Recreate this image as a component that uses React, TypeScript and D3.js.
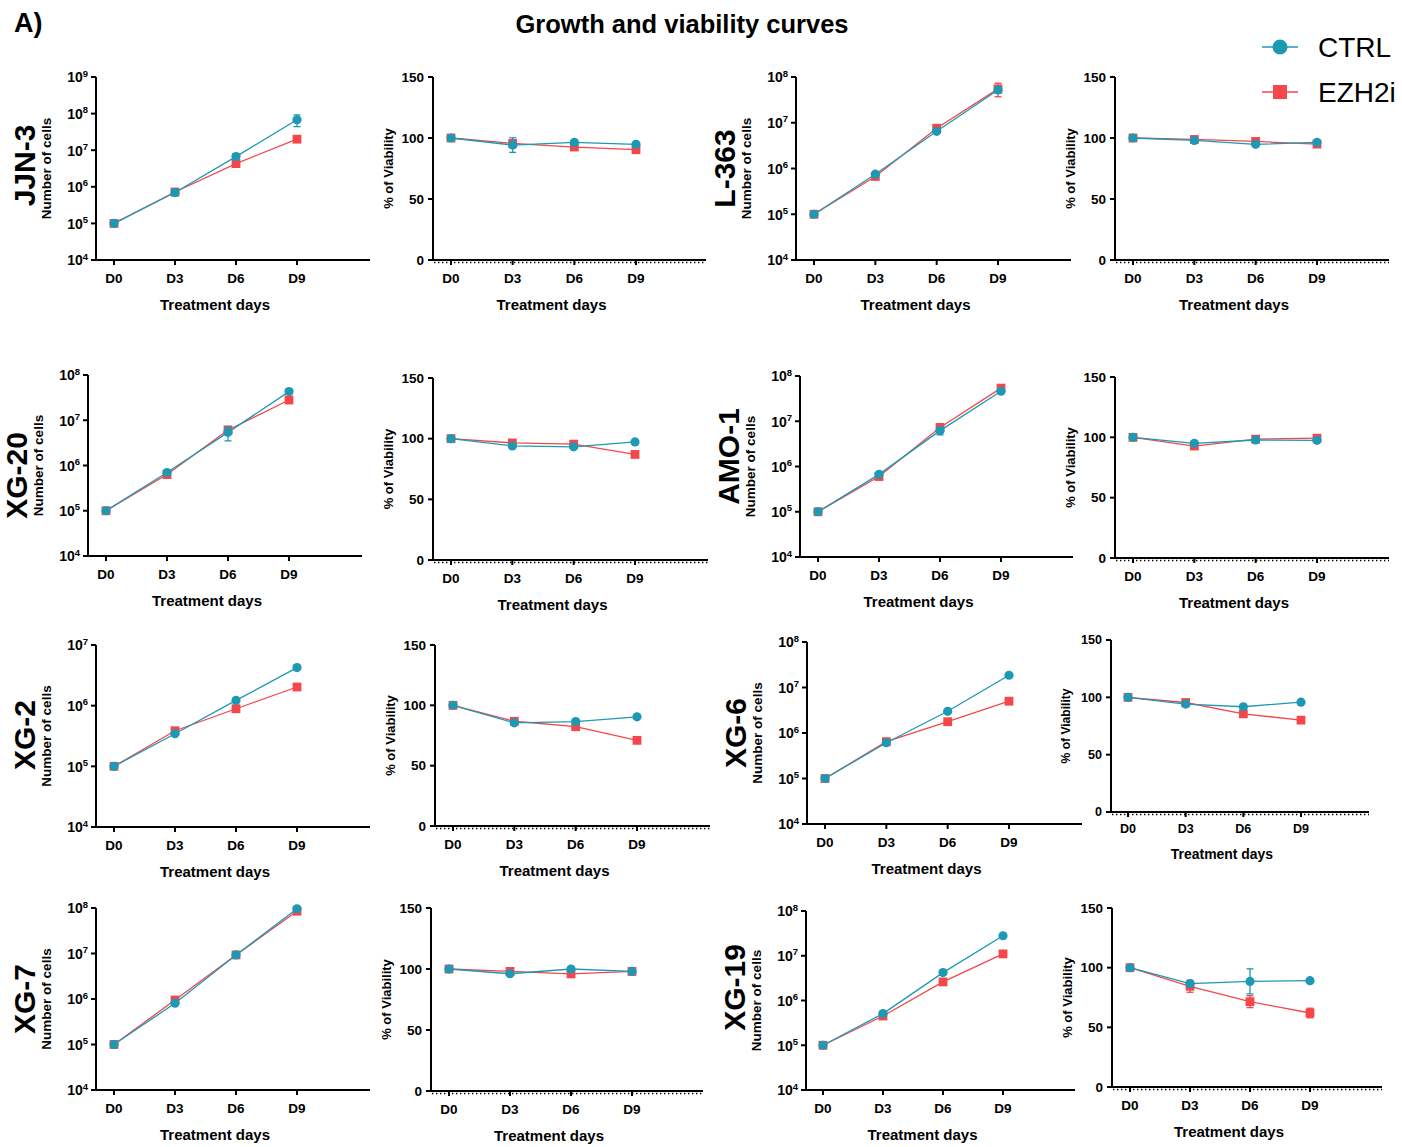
import React from "react";
import * as d3 from "d3";

// ---------------- DATA ----------------
const days = [0, 3, 6, 9];
const dayLabels = ["D0", "D3", "D6", "D9"];
const cellLines = ["JJN-3", "L-363", "XG-20", "AMO-1", "XG-2", "XG-6", "XG-7", "XG-19"];
const seriesNames = ["CTRL", "EZH2i"];
const growthMaxExp = [9, 8, 8, 8, 7, 8, 8, 8];
const growthMinExp = 4;
const viabTicks = [0, 50, 100, 150];

const growthCtrl = [
  [1e5, 7.0e5, 6.7e6, 6.8e7],
  [1e5, 7.5e5, 6.5e6, 5.2e7],
  [1e5, 7.0e5, 5.4e6, 4.3e7],
  [1e5, 6.7e5, 6.2e6, 4.6e7],
  [1e5, 3.45e5, 1.22e6, 4.24e6],
  [1e5, 6.1e5, 3.0e6, 1.86e7],
  [1e5, 8.1e5, 9.3e6, 9.6e7],
  [1e5, 5.1e5, 4.2e6, 2.8e7],
];
const growthCtrlSd = [
  [0, 1.3e5, 1.2e6, 2.4e7],
  [0, 5e4, 5e5, 8e6],
  [0, 5e4, 1.9e6, 5e6],
  [0, 5e4, 1.2e6, 3e6],
  [0, 2e4, 8e4, 2e5],
  [0, 3e4, 2e5, 1e6],
  [0, 4e4, 5e5, 5e6],
  [0, 3e4, 2e5, 1.5e6],
];
const growthEzh = [
  [1e5, 7.2e5, 4.3e6, 2.0e7],
  [1e5, 6.7e5, 7.6e6, 5.5e7],
  [1e5, 6.3e5, 6.1e6, 2.8e7],
  [1e5, 6.0e5, 7.3e6, 5.4e7],
  [1e5, 3.86e5, 8.9e5, 2.03e6],
  [1e5, 6.45e5, 1.77e6, 5.0e6],
  [1e5, 9.5e5, 9.3e6, 8.5e7],
  [1e5, 4.5e5, 2.6e6, 1.1e7],
];
const growthEzhSd = [
  [0, 8e4, 5e5, 3e6],
  [0, 5e4, 8e5, 1.8e7],
  [0, 5e4, 5e5, 2e6],
  [0, 5e4, 8e5, 4e6],
  [0, 2e4, 6e4, 1.5e5],
  [0, 3e4, 1e5, 3e5],
  [0, 5e4, 5e5, 5e6],
  [0, 3e4, 2e5, 8e5],
];
const viabCtrl = [
  [100, 94.2, 96.4, 94.8],
  [100, 98.0, 94.8, 96.4],
  [100, 94.0, 93.3, 97.3],
  [100, 95.0, 97.8, 97.5],
  [100, 85.5, 86.5, 90.5],
  [100, 94.1, 91.8, 95.8],
  [100, 96.1, 100, 98.0],
  [100, 86.6, 88.5, 89.1],
];
const viabCtrlSd = [
  [0, 6, 2, 1],
  [0, 1, 1, 1],
  [0, 1, 1, 1],
  [0, 1, 1.5, 1],
  [0, 1, 1, 1],
  [0, 1, 1, 1],
  [0, 1, 1, 1],
  [0, 2.5, 10.5, 1],
];
const viabEzh = [
  [100, 95.6, 92.6, 90.4],
  [100, 98.8, 97.2, 95.0],
  [100, 96.5, 95.5, 87.0],
  [100, 92.8, 98.5, 99.3],
  [100, 86.8, 82.3, 71.0],
  [100, 95.5, 85.6, 80.1],
  [100, 98.0, 96.0, 98.0],
  [100, 84.4, 71.5, 62.0],
];
const viabEzhSd = [
  [0, 3, 1.5, 1.5],
  [0, 1, 1, 1],
  [0, 1, 1, 1],
  [0, 1.5, 1, 1],
  [0, 1, 1, 1],
  [0, 1, 1, 1],
  [0, 1, 1, 1],
  [0, 5, 5, 4],
];

// ---------------- LAYOUT ----------------
// ax: y-axis x, top/bot: axis extent, d0/d9: x pixel of D0/D9, end: x-axis end
const panelLayouts = [
  { ax: 96, top: 77, bot: 260, d0: 114, d9: 297, end: 370, lblDy: -3 },
  { ax: 433, top: 77, bot: 260, d0: 451, d9: 636, end: 706 },
  { ax: 796, top: 77, bot: 260, d0: 814, d9: 998, end: 1071, lblDy: 0 },
  { ax: 1115, top: 77, bot: 260, d0: 1133, d9: 1317, end: 1389 },

  { ax: 88, top: 375, bot: 556, d0: 106, d9: 289, end: 362, lblDy: 10 },
  { ax: 433, top: 378, bot: 560, d0: 451, d9: 635, end: 708 },
  { ax: 800, top: 376, bot: 557, d0: 818, d9: 1001, end: 1073, lblDy: -10 },
  { ax: 1115, top: 377, bot: 558, d0: 1133, d9: 1317, end: 1389 },

  { ax: 96, top: 645, bot: 827, d0: 114, d9: 297, end: 370, lblDy: -1 },
  { ax: 435, top: 645, bot: 826, d0: 453, d9: 637, end: 710 },
  { ax: 807, top: 642, bot: 824, d0: 825, d9: 1009, end: 1082, lblDy: 0 },
  { ax: 1111, top: 640, bot: 812, d0: 1128, d9: 1301, end: 1369, small: true },

  { ax: 96, top: 908, bot: 1090, d0: 114, d9: 297, end: 370, lblDy: 0 },
  { ax: 431, top: 908, bot: 1091, d0: 449, d9: 632, end: 703 },
  { ax: 806, top: 911, bot: 1090, d0: 823, d9: 1003, end: 1075, lblDy: -13 },
  { ax: 1112, top: 908, bot: 1087, d0: 1130, d9: 1310, end: 1382 },
];

const FONT = "'Liberation Sans', Arial, Helvetica, sans-serif";
const COLORS = ["#1d99b4", "#f4474b"];

type Pt = { d: number; v: number; sd: number };

function Marker({ kind, x, y, size }: { kind: number; x: number; y: number; size: number }) {
  if (kind === 0) return <circle cx={x} cy={y} r={size} fill={COLORS[0]} />;
  return (
    <rect x={x - size} y={y - size} width={size * 2} height={size * 2} fill={COLORS[1]} />
  );
}

function Series({
  pts, x, y, kind,
}: { pts: Pt[]; x: (n: number) => number; y: (n: number) => number; kind: number }) {
  const line = d3.line<Pt>().x((p) => x(p.d)).y((p) => y(p.v));
  const col = COLORS[kind];
  return (
    <g>
      <path d={line(pts) || ""} fill="none" stroke={col} strokeWidth={1.3} />
      {pts.map((p, i) =>
        p.sd > 0 ? (
          <g key={"e" + i} stroke={col} strokeWidth={1.3}>
            <line x1={x(p.d)} x2={x(p.d)} y1={y(p.v - p.sd)} y2={y(p.v + p.sd)} />
            <line x1={x(p.d) - 3.5} x2={x(p.d) + 3.5} y1={y(p.v - p.sd)} y2={y(p.v - p.sd)} />
            <line x1={x(p.d) - 3.5} x2={x(p.d) + 3.5} y1={y(p.v + p.sd)} y2={y(p.v + p.sd)} />
          </g>
        ) : null
      )}
      {pts.map((p, i) => (
        <Marker key={"m" + i} kind={kind} x={x(p.d)} y={y(p.v)} size={kind === 0 ? 4.6 : 4.4} />
      ))}
    </g>
  );
}

function toPts(vals: number[], sds: number[]): Pt[] {
  return days.map((d, i) => ({ d, v: vals[i], sd: sds[i] }));
}

function XAxis({ L, x, dotted, s }: { L: any; x: d3.ScaleLinear<number, number>; dotted: boolean; s: number }) {
  return (
    <g>
      <line x1={L.ax - 1} x2={L.end} y1={L.bot} y2={L.bot} stroke="#000" strokeWidth={2} />
      {dotted && (
        <line
          x1={L.ax + 1}
          x2={L.end}
          y1={L.bot + 2.5}
          y2={L.bot + 2.5}
          stroke="#000"
          strokeWidth={1.6}
          strokeDasharray="1.4 2.6"
        />
      )}
      {days.map((d, i) => (
        <g key={d}>
          <line x1={x(d)} x2={x(d)} y1={L.bot} y2={L.bot + 5} stroke="#000" strokeWidth={2} />
          <text
            x={x(d)}
            y={L.bot + 18 * s}
            dy="0.35em"
            textAnchor="middle"
            fontFamily={FONT}
            fontWeight="bold"
            fontSize={13.5 * s}
          >
            {dayLabels[i]}
          </text>
        </g>
      ))}
      <text
        x={(L.ax + L.end) / 2 - 18}
        y={L.bot + 45 * s}
        dy="0.35em"
        textAnchor="middle"
        fontFamily={FONT}
        fontWeight="bold"
        fontSize={15 * s}
      >
        Treatment days
      </text>
    </g>
  );
}

function GrowthPanel({ idx, L }: { idx: number; L: any }) {
  const x = d3.scaleLinear().domain([days[0], days[3]]).range([L.d0, L.d9]);
  const maxE = growthMaxExp[idx];
  const y = d3.scaleLog().domain([10 ** growthMinExp, 10 ** maxE]).range([L.bot, L.top]);
  const ticks = d3.range(growthMinExp, maxE + 1);
  const cy = (L.top + L.bot) / 2;
  return (
    <g>
      <line x1={L.ax} x2={L.ax} y1={L.top} y2={L.bot + 1} stroke="#000" strokeWidth={2} />
      {ticks.map((e) => (
        <g key={e}>
          <line x1={L.ax - 5} x2={L.ax} y1={y(10 ** e)} y2={y(10 ** e)} stroke="#000" strokeWidth={2} />
          <text
            x={L.ax - 8}
            y={y(10 ** e)}
            dy="0.38em"
            textAnchor="end"
            fontFamily={FONT}
            fontWeight="bold"
            fontSize={14}
          >
            10
            <tspan dy="-0.6em" fontSize={9.5}>
              {e}
            </tspan>
          </text>
        </g>
      ))}
      <XAxis L={L} x={x} dotted={false} s={1} />
      <text
        transform={`translate(${L.ax - 50},${cy}) rotate(-90)`}
        textAnchor="middle"
        dy="0.35em"
        fontFamily={FONT}
        fontWeight="bold"
        fontSize={13.5}
      >
        Number of cells
      </text>
      <text
        transform={`translate(${L.ax - 72},${cy + (L.lblDy || 0)}) rotate(-90)`}
        textAnchor="middle"
        dy="0.35em"
        fontFamily={FONT}
        fontWeight="bold"
        fontSize={30}
      >
        {cellLines[idx]}
      </text>
      <Series pts={toPts(growthEzh[idx], growthEzhSd[idx])} x={x} y={y} kind={1} />
      <Series pts={toPts(growthCtrl[idx], growthCtrlSd[idx])} x={x} y={y} kind={0} />
    </g>
  );
}

function ViabPanel({ idx, L }: { idx: number; L: any }) {
  const x = d3.scaleLinear().domain([days[0], days[3]]).range([L.d0, L.d9]);
  const y = d3.scaleLinear().domain([0, 150]).range([L.bot, L.top]);
  const s = L.small ? 0.93 : 1;
  const cy = (L.top + L.bot) / 2;
  return (
    <g>
      <line x1={L.ax} x2={L.ax} y1={L.top} y2={L.bot + 1} stroke="#000" strokeWidth={2} />
      {viabTicks.map((t) => (
        <g key={t}>
          <line x1={L.ax - 5} x2={L.ax} y1={y(t)} y2={y(t)} stroke="#000" strokeWidth={2} />
          <text
            x={L.ax - 9}
            y={y(t)}
            dy="0.35em"
            textAnchor="end"
            fontFamily={FONT}
            fontWeight="bold"
            fontSize={13.5 * s}
          >
            {t}
          </text>
        </g>
      ))}
      <XAxis L={L} x={x} dotted={true} s={s} />
      <text
        transform={`translate(${L.ax - 45},${cy}) rotate(-90)`}
        textAnchor="middle"
        dy="0.35em"
        fontFamily={FONT}
        fontWeight="bold"
        fontSize={13 * s}
      >
        % of Viability
      </text>
      <Series pts={toPts(viabEzh[idx], viabEzhSd[idx])} x={x} y={y} kind={1} />
      <Series pts={toPts(viabCtrl[idx], viabCtrlSd[idx])} x={x} y={y} kind={0} />
    </g>
  );
}

function Legend() {
  const rows = [47, 92];
  return (
    <g>
      {seriesNames.map((n, i) => (
        <g key={n}>
          <line x1={1262} x2={1298} y1={rows[i]} y2={rows[i]} stroke={COLORS[i]} strokeWidth={1.6} />
          {i === 0 ? (
            <circle cx={1280} cy={rows[i]} r={7.5} fill={COLORS[0]} />
          ) : (
            <rect x={1273} y={rows[i] - 7} width={14} height={14} fill={COLORS[1]} />
          )}
          <text x={1318} y={rows[i]} dy="0.36em" fontFamily={FONT} fontSize={28} fill="#000">
            {n}
          </text>
        </g>
      ))}
    </g>
  );
}

export default function App() {
  const panels: React.ReactNode[] = [];
  panelLayouts.forEach((L, p) => {
    const row = Math.floor(p / 4);
    const col = p % 4;
    const idx = row * 2 + (col >= 2 ? 1 : 0);
    if (col % 2 === 0) panels.push(<GrowthPanel key={p} idx={idx} L={L} />);
    else panels.push(<ViabPanel key={p} idx={idx} L={L} />);
  });
  return (
    <div style={{ position: "absolute", left: 0, top: 0 }}>
      <svg width={1402} height={1147} viewBox="0 0 1402 1147" style={{ display: "block", background: "#fff" }}>
        <rect width={1402} height={1147} fill="#fff" />
        <text x={14} y={32} fontFamily={FONT} fontWeight="bold" fontSize={27}>
          A)
        </text>
        <text x={682} y={33} textAnchor="middle" fontFamily={FONT} fontWeight="bold" fontSize={25.5}>
          Growth and viability curves
        </text>
        <Legend />
        {panels}
      </svg>
    </div>
  );
}
